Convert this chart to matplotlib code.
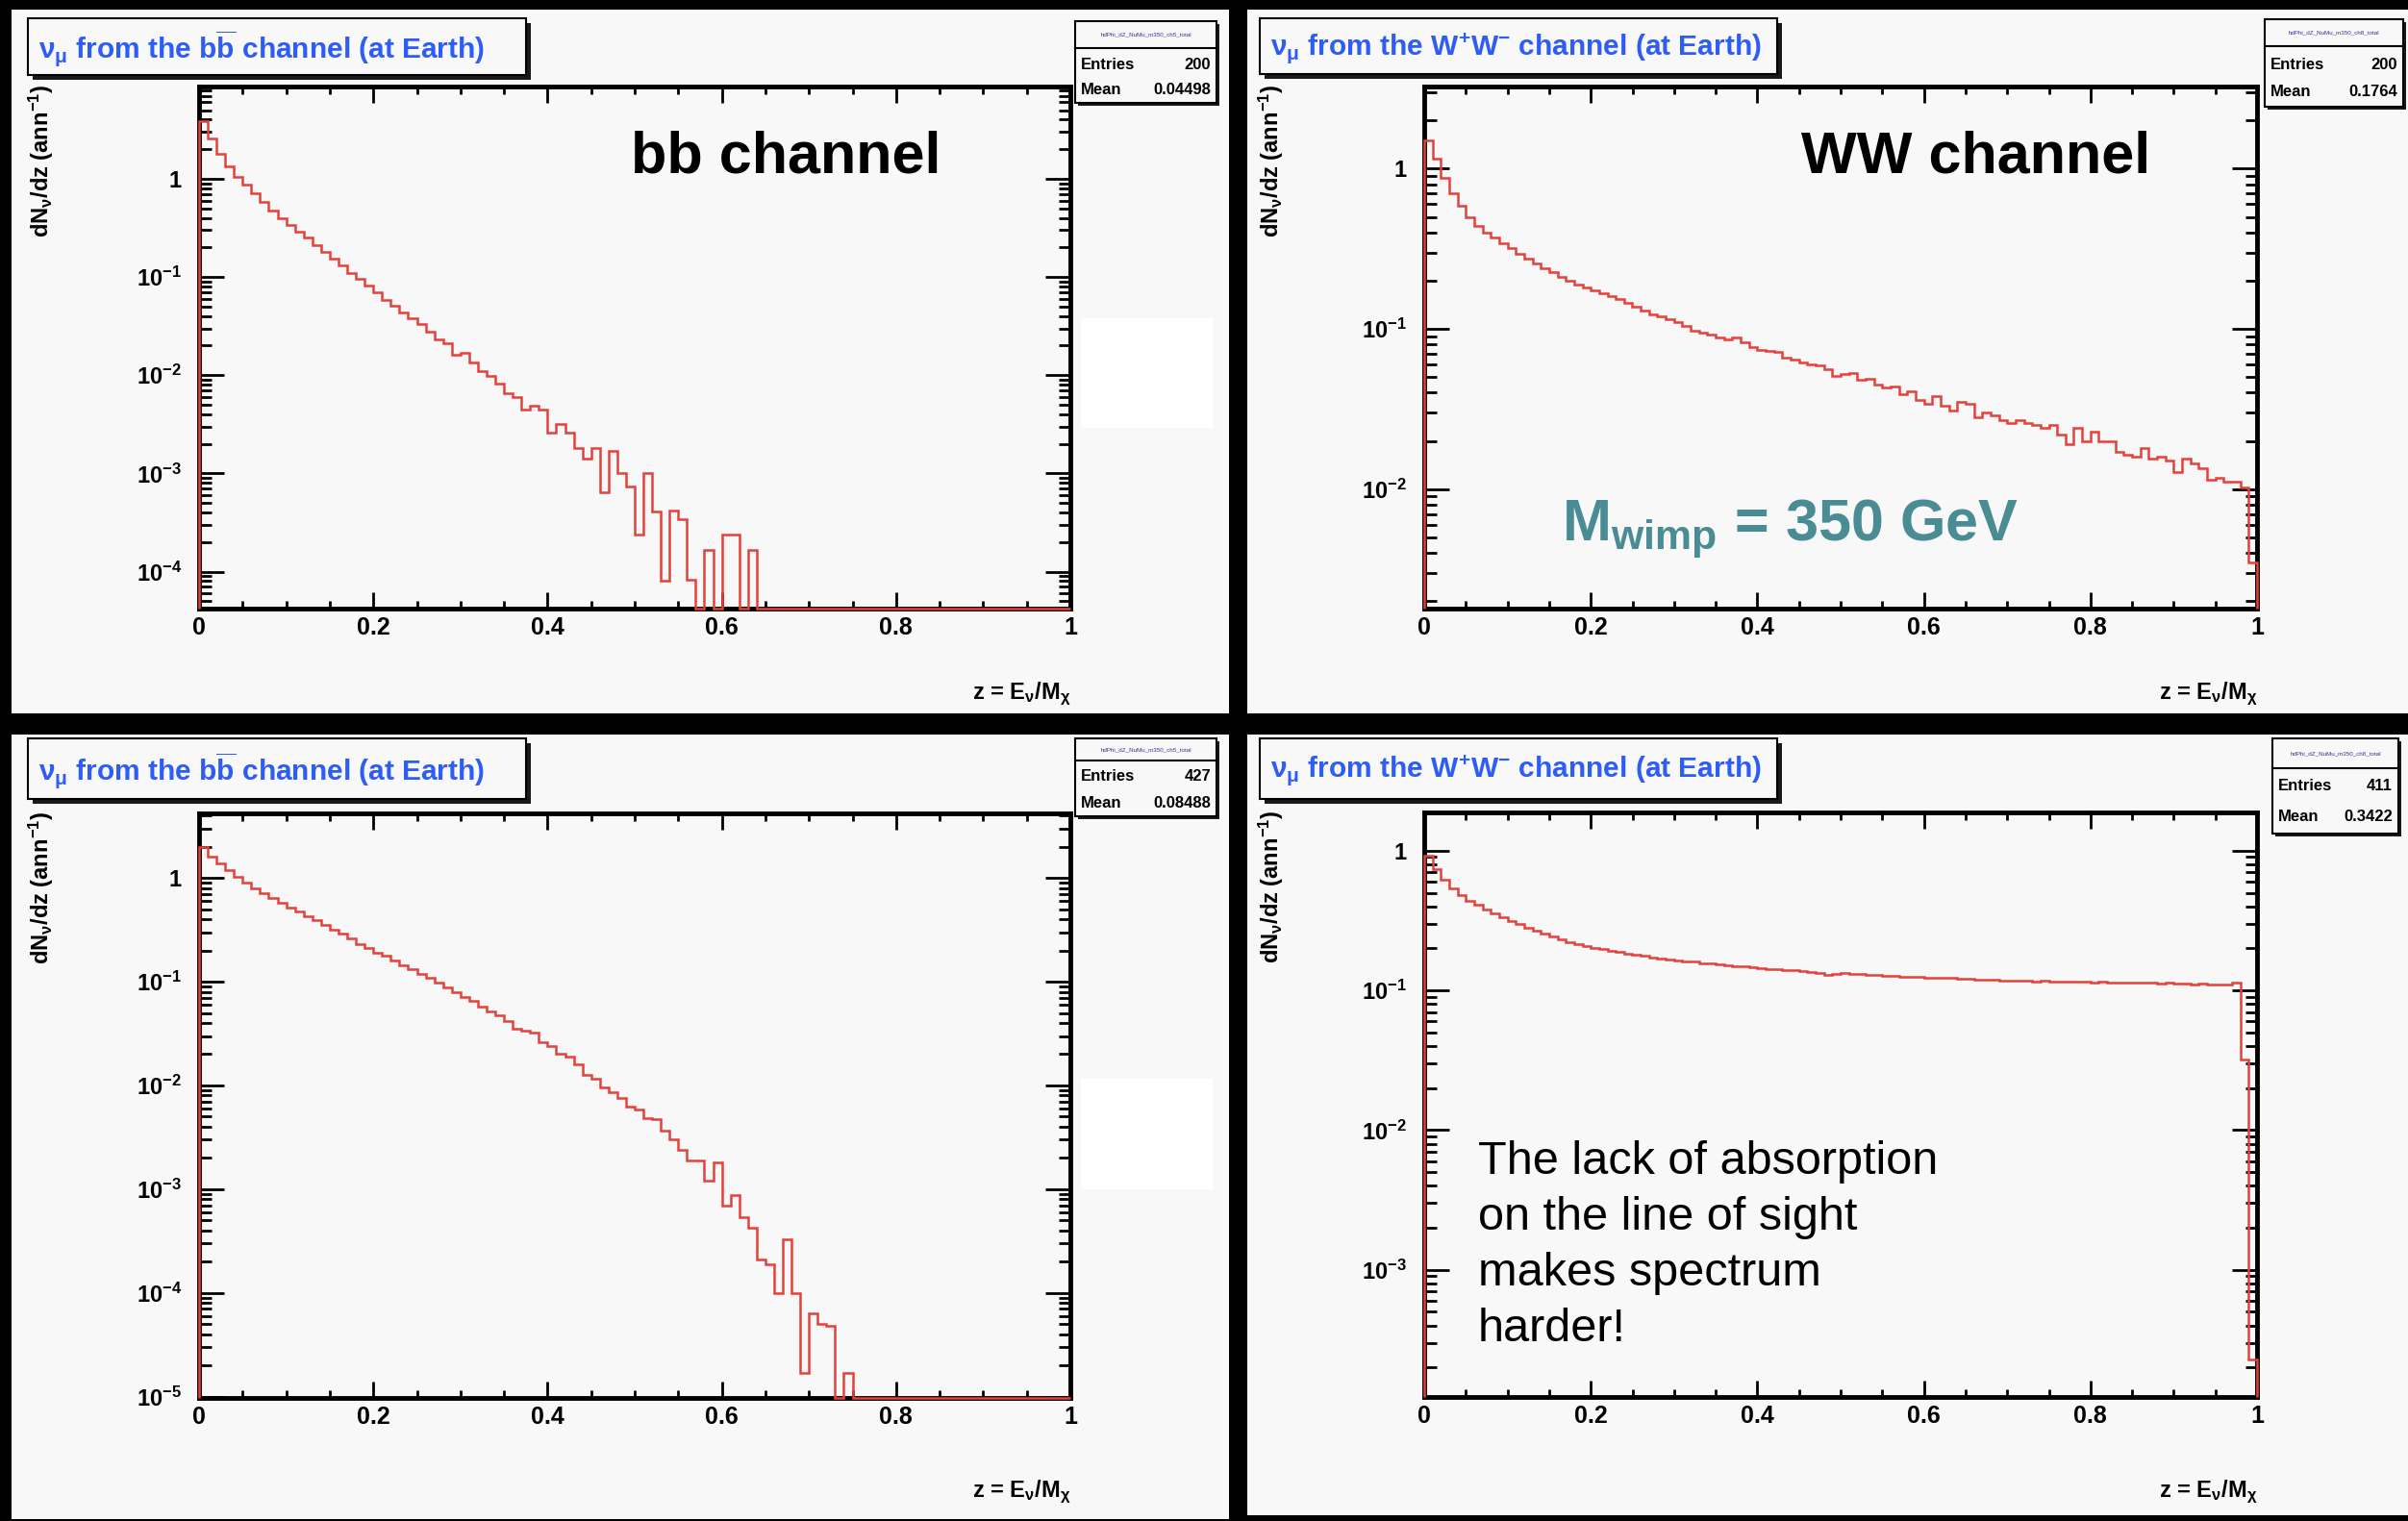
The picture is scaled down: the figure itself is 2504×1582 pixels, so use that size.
"""
    nu_mu spectra at Earth, bb and WW channels, M_wimp = 350 GeV
"""
import numpy as np
import matplotlib
matplotlib.use('Agg')
import matplotlib.pyplot as plt
from matplotlib.patches import Rectangle
from matplotlib.ticker import LogLocator, MultipleLocator, NullFormatter

W, H = 2504, 1582
BG = '#f8f8f8'
RED = '#e5403a'
BLUE = '#2d5cf6'
TEAL = '#4a8c94'

plt.rcParams['font.family'] = ['Liberation Sans', 'DejaVu Sans']
plt.rcParams['mathtext.fontset'] = 'custom'
plt.rcParams['mathtext.rm'] = 'Liberation Sans'
plt.rcParams['mathtext.bf'] = 'Liberation Sans:bold'
plt.rcParams['mathtext.it'] = 'Liberation Sans:italic'
plt.rcParams['mathtext.default'] = 'regular'

# dN/dz per bin, 100 bins of width 0.01 in z = E/M
bb_top = [
    3.9, 2.6, 1.8, 1.35, 1.05, 0.88, 0.72, 0.58, 0.47, 0.40,
    0.34, 0.29, 0.25, 0.21, 0.18, 0.155, 0.13, 0.11, 0.095, 0.082,
    0.070, 0.059, 0.051, 0.044, 0.038, 0.033, 0.028, 0.023, 0.021, 0.016,
    0.017, 0.0135, 0.011, 0.0098, 0.0082, 0.0065, 0.0060, 0.0045, 0.0049, 0.0045,
    0.0026, 0.0032, 0.0026, 0.0018, 0.0014, 0.0018, 0.00064, 0.0017, 0.0010, 0.00074,
    0.00024, 0.0010, 0.00041, 0.000081, 0.00042, 0.00034, 0.000083, 0, 0.000165, 0,
    0.00024, 0.00024, 0, 0.000165, 0, 0, 0, 0, 0, 0,
    0, 0, 0, 0, 0, 0, 0, 0, 0, 0,
    0, 0, 0, 0, 0, 0, 0, 0, 0, 0,
    0, 0, 0, 0, 0, 0, 0, 0, 0, 0,
]
ww_top = [
    1.5, 1.15, 0.88, 0.70, 0.59, 0.50, 0.44, 0.40, 0.37, 0.34,
    0.32, 0.295, 0.275, 0.255, 0.24, 0.225, 0.212, 0.20, 0.19, 0.182,
    0.174, 0.168, 0.16, 0.153, 0.145, 0.137, 0.131, 0.124, 0.12, 0.115,
    0.11, 0.104, 0.097, 0.095, 0.092, 0.089, 0.086, 0.088, 0.083, 0.077,
    0.074, 0.073, 0.072, 0.066, 0.064, 0.062, 0.060, 0.059, 0.056, 0.051,
    0.052, 0.053, 0.048, 0.049, 0.045, 0.043, 0.044, 0.039, 0.041, 0.036,
    0.034, 0.038, 0.033, 0.031, 0.035, 0.034, 0.028, 0.030, 0.029, 0.027,
    0.026, 0.027, 0.026, 0.025, 0.024, 0.025, 0.022, 0.019, 0.024, 0.020,
    0.023, 0.020, 0.020, 0.017, 0.0165, 0.016, 0.018, 0.0155, 0.016, 0.015,
    0.0128, 0.0155, 0.0145, 0.0135, 0.0115, 0.0118, 0.0112, 0.0112, 0.0102, 0.0035,
]
bb_bottom = [
    2.0, 1.6, 1.38, 1.18, 1.02, 0.90, 0.80, 0.71, 0.64, 0.58,
    0.52, 0.48, 0.43, 0.39, 0.35, 0.32, 0.29, 0.26, 0.23, 0.21,
    0.19, 0.178, 0.16, 0.145, 0.132, 0.12, 0.108, 0.098, 0.089, 0.080,
    0.071, 0.065, 0.058, 0.052, 0.047, 0.042, 0.035, 0.034, 0.032, 0.026,
    0.024, 0.020, 0.019, 0.016, 0.0126, 0.0115, 0.0095, 0.0086, 0.0075, 0.0062,
    0.0059, 0.0048, 0.0047, 0.0037, 0.0030, 0.0024, 0.0019, 0.0019, 0.0012, 0.0018,
    0.00070, 0.00087, 0.00054, 0.00042, 0.00021, 0.00019, 0.00010, 0.00033, 0.00010, 0.000017,
    0.000063, 0.000050, 0.000048, 0, 0.000017, 0, 0, 0, 0, 0,
    0, 0, 0, 0, 0, 0, 0, 0, 0, 0,
    0, 0, 0, 0, 0, 0, 0, 0, 0, 0,
]
ww_bottom = [
    0.92, 0.74, 0.62, 0.54, 0.48, 0.44, 0.41, 0.38, 0.355, 0.335,
    0.315, 0.298, 0.282, 0.268, 0.255, 0.242, 0.232, 0.223, 0.215, 0.208,
    0.202, 0.197, 0.192, 0.188, 0.184, 0.180, 0.176, 0.172, 0.170, 0.167,
    0.163, 0.161, 0.160, 0.157, 0.156, 0.154, 0.151, 0.149, 0.148, 0.146,
    0.144, 0.142, 0.141, 0.140, 0.139, 0.137, 0.136, 0.134, 0.130, 0.132,
    0.133, 0.132, 0.131, 0.130, 0.129, 0.128, 0.127, 0.126, 0.126, 0.125,
    0.124, 0.124, 0.123, 0.123, 0.121, 0.121, 0.120, 0.120, 0.119, 0.118,
    0.118, 0.117, 0.117, 0.116, 0.117, 0.116, 0.115, 0.116, 0.115, 0.115,
    0.114, 0.115, 0.114, 0.114, 0.113, 0.114, 0.113, 0.113, 0.112, 0.113,
    0.112, 0.112, 0.111, 0.112, 0.110, 0.111, 0.110, 0.113, 0.032, 0.00023,
]

x_ticks = [0, 0.2, 0.4, 0.6, 0.8, 1]
x_tick_labels = ['0', '0.2', '0.4', '0.6', '0.8', '1']
y_ticks = [1e-5, 1e-4, 1e-3, 1e-2, 1e-1, 1]
y_tick_labels = [r'$\mathbf{10^{-5}}$', r'$\mathbf{10^{-4}}$', r'$\mathbf{10^{-3}}$',
                 r'$\mathbf{10^{-2}}$', r'$\mathbf{10^{-1}}$', '1']

title_bb = r'$\nu_{\mu}$ from the b$\overline{\mathbf{b}}$ channel (at Earth)'
title_ww = r'$\nu_{\mu}$ from the W$^{\mathbf{+}}$W$^{\mathbf{-}}$ channel (at Earth)'
y_label = r'dN$_{\nu}$/dz (ann$^{\mathbf{-1}}$)'
x_label = r'z = E$_{\nu}$/M$_{\chi}$'

hist_names = ['hdPhi_dZ_NuMu_m350_ch5_total', 'hdPhi_dZ_NuMu_m350_ch8_total',
              'hdPhi_dZ_NuMu_m350_ch5_total', 'hdPhi_dZ_NuMu_m350_ch8_total']
entries = ['200', '200', '427', '411']
means = ['0.04498', '0.1764', '0.08488', '0.3422']

note_lines = ['The lack of absorption', 'on the line of sight', 'makes spectrum', 'harder!']

# layout in pixels (x0, y0, x1, y1), y counted from the top
panels = [
    dict(frame=(12, 10, 1278, 742), axes=(207, 90, 1113, 633), ylim=(4.2e-5, 8.7),
         tbox=(29, 19, 547, 78), sbox=(1118, 22, 1265, 107), srows=(50, 67, 94),
         ylab_x=43, xlab_y=722, white=(1124, 331, 1261, 445)),
    dict(frame=(1297, 10, 2504, 742), axes=(1481, 90, 2347, 633), ylim=(1.8e-3, 3.25),
         tbox=(1310, 19, 1848, 77), sbox=(2355, 20, 2499, 111), srows=(48, 68, 96),
         ylab_x=1322, xlab_y=722, white=None),
    dict(frame=(12, 764, 1278, 1580), axes=(207, 846, 1113, 1454), ylim=(0.97e-5, 4.2),
         tbox=(29, 768, 547, 831), sbox=(1118, 768, 1265, 849), srows=(791, 808, 836),
         ylab_x=43, xlab_y=1552, white=(1124, 1122, 1261, 1237)),
    dict(frame=(1297, 764, 2504, 1576), axes=(1481, 845, 2347, 1453), ylim=(1.23e-4, 1.88),
         tbox=(1310, 768, 1848, 831), sbox=(2363, 768, 2494, 867), srows=(799, 818, 850),
         ylab_x=1322, xlab_y=1552, white=None),
]


def fx(x):
    return x / W


def fy(y):
    return 1 - y / H


def rect(fig, x0, y0, x1, y1, face, edge='none', lw=0, z=1):
    r = Rectangle((fx(x0), fy(y1)), (x1 - x0) / W, (y1 - y0) / H, transform=fig.transFigure,
                  facecolor=face, edgecolor=edge, linewidth=lw, zorder=z)
    fig.add_artist(r)


def shadow_box(fig, x0, y0, x1, y1, shadow=5):
    """ROOT style pave: dark shadow below/right, black frame"""
    rect(fig, x0 + shadow, y0 + shadow, x1 + shadow, y1 + shadow, '#1a1a1a', z=2)
    rect(fig, x0, y0, x1, y1, BG, 'black', 1.5, z=2)


def draw_panel(fig, p, values, title, idx):
    x0, y0, x1, y1 = p['frame']
    rect(fig, x0, y0, x1, y1, BG, z=-1)
    if p['white']:
        rect(fig, *p['white'], 'white', z=1)

    a0, b0, a1, b1 = p['axes']
    ax = fig.add_axes([fx(a0), fy(b1), (a1 - a0) / W, (b1 - b0) / H])
    ax.set_facecolor(BG)
    ax.set_yscale('log')
    lo, hi = p['ylim']
    ax.set_xlim(0, 1)
    ax.set_ylim(lo, hi)

    # histogram, empty bins sit on the bottom of the frame like ROOT does
    edges = np.linspace(0, 1, len(values) + 1)
    vals = np.clip(np.array(values, dtype=float), lo, None)
    ax.stairs(vals, edges, baseline=lo, color=RED, lw=1.8, zorder=3, clip_on=False)

    ax.set_xticks(x_ticks, x_tick_labels, fontsize=18, fontweight='bold')
    ax.xaxis.set_minor_locator(MultipleLocator(0.05))
    yt = [(t, l) for t, l in zip(y_ticks, y_tick_labels) if lo <= t <= hi]
    ax.set_yticks([t for t, _ in yt], [l for _, l in yt], fontsize=17, fontweight='bold')
    ax.yaxis.set_minor_locator(LogLocator(base=10, subs=np.arange(2, 10), numticks=100))
    ax.yaxis.set_minor_formatter(NullFormatter())
    ax.tick_params(axis='x', which='major', direction='in', top=True, length=12, width=2, pad=6)
    ax.tick_params(axis='x', which='minor', direction='in', top=True, length=5.5, width=2)
    ax.tick_params(axis='y', which='major', direction='in', right=True, length=19, width=2, pad=13)
    ax.tick_params(axis='y', which='minor', direction='in', right=True, length=9, width=2)
    for s in ax.spines.values():
        s.set_linewidth(3.5)

    # axis titles at the axis ends
    fig.text(fx(p['ylab_x']), fy(b0 - 2), y_label, rotation=90, ha='center', va='top',
             fontsize=17, fontweight='bold')
    fig.text(fx(a1), fy(p['xlab_y']), x_label, ha='right', va='center',
             fontsize=17, fontweight='bold')

    # title pave
    t0, u0, t1, u1 = p['tbox']
    shadow_box(fig, t0, u0, t1, u1)
    fig.text(fx(t0 + 11), fy((u0 + u1) / 2 + 2), title, ha='left', va='center',
             fontsize=21.5, fontweight='bold', color=BLUE, zorder=4)

    # stats pave
    s0, v0, s1, v1 = p['sbox']
    shadow_box(fig, s0, v0, s1, v1, shadow=3)
    r_line, r_ent, r_mean = p['srows']
    fig.add_artist(plt.Line2D([fx(s0), fx(s1)], [fy(r_line), fy(r_line)],
                              transform=fig.transFigure, color='black', lw=1.5, zorder=3))
    fig.text(fx((s0 + s1) / 2), fy((v0 + r_line) / 2), hist_names[idx], ha='center', va='center',
             fontsize=4.5, color='#333399', zorder=4)
    fig.text(fx(s0 + 6), fy(r_ent), 'Entries', ha='left', va='center', fontsize=12,
             fontweight='bold', zorder=4)
    fig.text(fx(s1 - 6), fy(r_ent), entries[idx], ha='right', va='center', fontsize=12,
             fontweight='bold', zorder=4)
    fig.text(fx(s0 + 6), fy(r_mean), 'Mean', ha='left', va='center', fontsize=12,
             fontweight='bold', zorder=4)
    fig.text(fx(s1 - 6), fy(r_mean), means[idx], ha='right', va='center', fontsize=12,
             fontweight='bold', zorder=4)
    return ax


def main():
    fig = plt.figure(figsize=(W / 100, H / 100), dpi=100, facecolor='black')

    series = [bb_top, ww_top, bb_bottom, ww_bottom]
    titles = [title_bb, title_ww, title_bb, title_ww]
    for i, p in enumerate(panels):
        draw_panel(fig, p, series[i], titles[i], i)

    # slide annotations
    fig.text(fx(817), fy(179), 'bb channel', ha='center', va='baseline',
             fontsize=44, fontweight='bold', color='black')
    fig.text(fx(2055), fy(179), 'WW channel', ha='center', va='baseline',
             fontsize=44, fontweight='bold', color='black')
    fig.text(fx(1624), fy(562), r'$\mathbf{M_{wimp}}$ = 350 GeV', ha='left', va='baseline',
             fontsize=44, fontweight='bold', color=TEAL)
    for k, line in enumerate(note_lines):
        fig.text(fx(1537), fy(1221 + 58 * k), line, ha='left', va='baseline',
                 fontsize=35, color='black')

    fig.savefig('out.png', dpi=100, facecolor='black')


if __name__ == '__main__':
    main()
